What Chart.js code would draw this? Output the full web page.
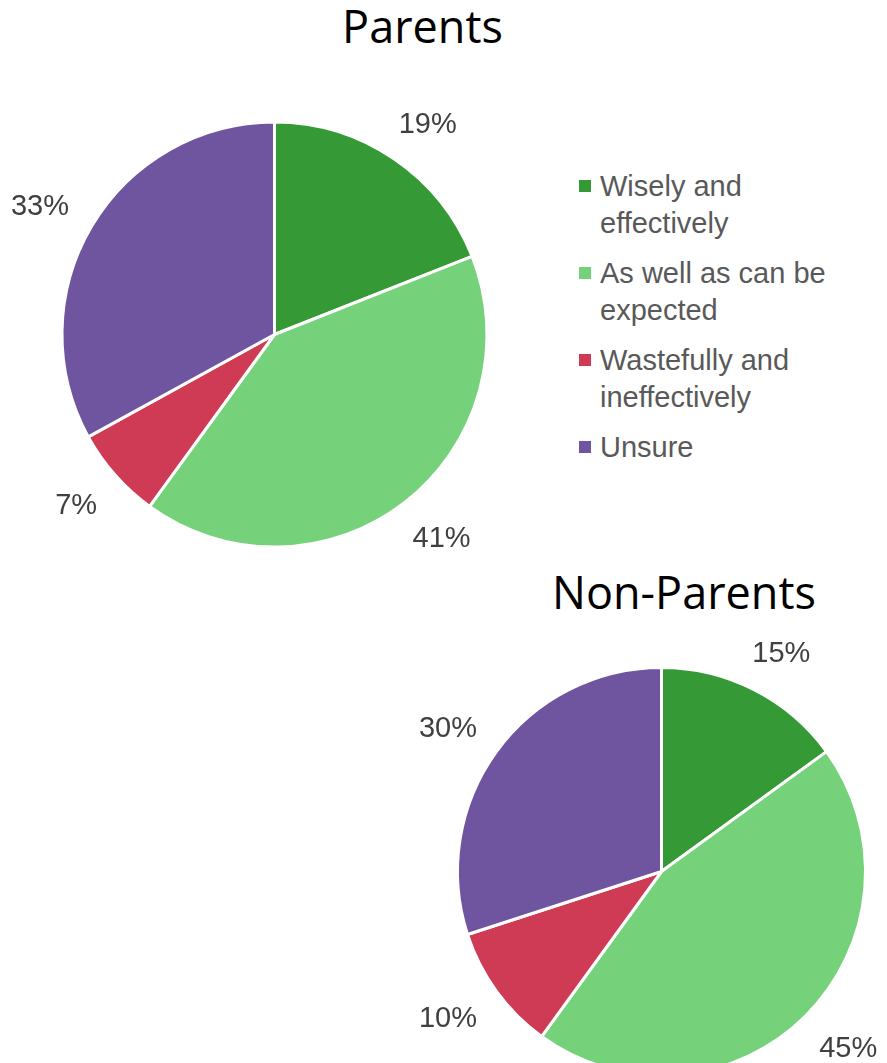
<!DOCTYPE html>
<html>
<head>
<meta charset="utf-8">
<script src="https://cdn.jsdelivr.net/npm/chart.js@4/dist/chart.umd.min.js"></script>
<style>
  html, body { margin:0; padding:0; background:#fff; width:887px; height:1063px; overflow:hidden; }
  body { position:relative; }
  canvas { position:absolute; }
  .title { position:absolute; width:400px; text-align:center; font-family:"Open Sans", sans-serif; font-size:45px; line-height:45px; color:#000; white-space:nowrap; }
  #legend { position:absolute; left:579px; top:168.45px; font-family:"Liberation Sans", Arial, sans-serif; font-size:29px; line-height:37px; color:#595959; }
  .item { position:relative; margin-bottom:12.7px; }
  .sw { position:absolute; left:0; top:12px; width:12px; height:12px; }
  .txt { margin-left:21px; white-space:nowrap; }
</style>
</head>
<body>
<div class="title" style="left:222.5px; top:3px;">Parents</div>
<div class="title" style="left:484px; top:569px;">Non-Parents</div>
<div id="legend"></div>
<canvas id="c1" width="549" height="469" style="left:0px; top:100px;"></canvas>
<canvas id="c2" width="523" height="503" style="left:400px; top:620px;"></canvas>
<script>
const categories = [
  ["Wisely and", "effectively"],
  ["As well as can be", "expected"],
  ["Wastefully and", "ineffectively"],
  ["Unsure"]
];
const parentsValues = [19, 41, 7, 33];
const nonParentsValues = [15, 45, 10, 30];
const colors = ["#359A35", "#75D27A", "#CF3A55", "#6F55A0"];

// legend (HTML, built from categories and colors)
const legendEl = document.getElementById('legend');
categories.forEach((lines, i) => {
  const item = document.createElement('div');
  item.className = 'item';
  const sw = document.createElement('div');
  sw.className = 'sw';
  sw.style.background = colors[i];
  const txt = document.createElement('div');
  txt.className = 'txt';
  txt.innerHTML = lines.join('<br>');
  item.appendChild(sw);
  item.appendChild(txt);
  legendEl.appendChild(item);
});

const outsideLabels = {
  id: 'outsideLabels',
  afterDatasetsDraw(chart) {
    const ctx = chart.ctx;
    const meta = chart.getDatasetMeta(0);
    const data = chart.data.datasets[0].data;
    const fs = 29;
    ctx.save();
    ctx.font = fs + 'px "Liberation Sans", Arial, sans-serif';
    ctx.fillStyle = '#404040';
    ctx.textAlign = 'center';
    ctx.textBaseline = 'alphabetic';
    meta.data.forEach((arc, i) => {
      const p = arc.getProps(['x','y','startAngle','endAngle','outerRadius'], true);
      const mid = (p.startAngle + p.endAngle) / 2;
      const ux = Math.cos(mid), uy = Math.sin(mid);
      const text = data[i] + '%';
      const w = ctx.measureText(text).width;
      const h = fs * 0.85;
      const d = p.outerRadius + 31;
      const cx = p.x + d * ux + (w / 2) * ux;
      const cy = p.y + d * uy + (h / 2) * uy;
      ctx.fillText(text, cx, cy + fs * 0.716 / 2);
    });
    ctx.restore();
  }
};

function makePie(id, values, radius) {
  return new Chart(document.getElementById(id), {
    type: 'pie',
    data: {
      labels: categories,
      datasets: [{
        data: values,
        backgroundColor: colors,
        borderColor: '#ffffff',
        borderWidth: 3
      }]
    },
    options: {
      responsive: false,
      animation: false,
      radius: radius,
      layout: { padding: 0 },
      plugins: {
        legend: { display: false },
        tooltip: { enabled: false },
        title: { display: false }
      }
    },
    plugins: [outsideLabels]
  });
}

makePie('c1', parentsValues, 212.5);
makePie('c2', nonParentsValues, 204);
</script>
</body>
</html>
